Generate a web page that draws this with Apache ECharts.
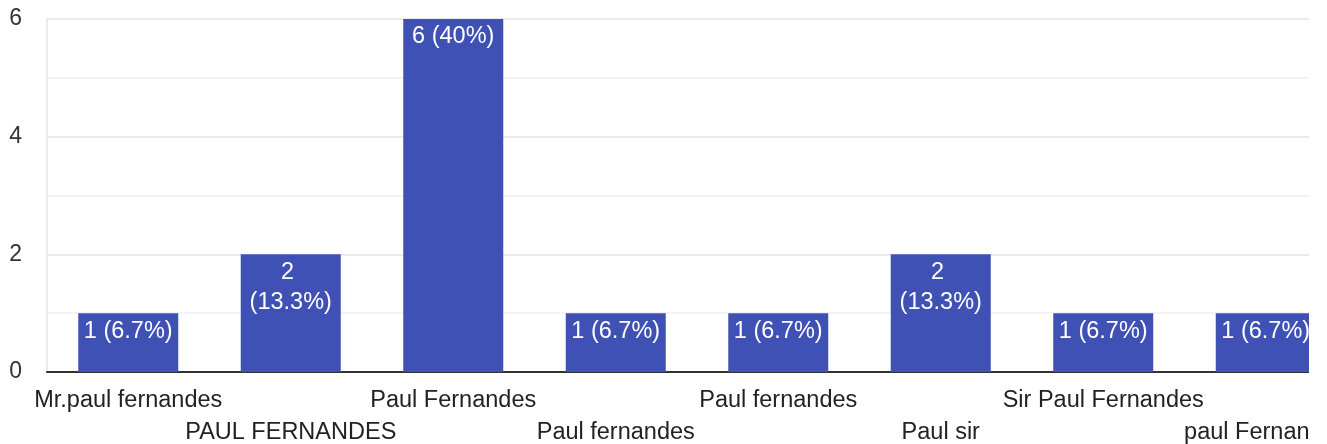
<!DOCTYPE html>
<html>
<head>
<meta charset="utf-8">
<script src="https://cdn.jsdelivr.net/npm/echarts@6/dist/echarts.min.js"></script>
<style>
  html, body { margin: 0; padding: 0; background: #fff; }
  #wrap { width: 1309px; height: 444px; overflow: hidden; }
  #chart { width: 1400px; height: 444px; }
</style>
</head>
<body>
<div id="wrap"><div id="chart"></div></div>
<script>
// answers and counts
var names = ['Mr.paul fernandes', 'PAUL FERNANDES', 'Paul Fernandes', 'Paul fernandes',
             'Paul fernandes', 'Paul sir', 'Sir Paul Fernandes', 'paul Fernandes'];
var counts = [1, 2, 6, 1, 1, 2, 1, 1];
var yTicks = [0, 2, 4, 6];

var total = counts.reduce(function (a, b) { return a + b; }, 0);
var chart = echarts.init(document.getElementById('chart'));
var font = 'Liberation Sans, Arial, sans-serif';

var option = {
    animation: false,
    grid: { left: 47, right: 53, top: 19, bottom: 72, containLabel: false, outerBoundsMode: 'none' },
    xAxis: {
        type: 'category',
        data: names,
        axisTick: { show: false },
        axisLine: { lineStyle: { color: '#333', width: 2 } },
        axisLabel: {
            interval: 0,
            margin: 13,
            fontSize: 23.5,
            lineHeight: 32,
            color: '#222',
            fontFamily: font,
            formatter: function (v, i) {
                return i % 2 ? '\n' + v : v;   // alternate rows like the original
            }
        }
    },
    yAxis: {
        type: 'value',
        min: yTicks[0],
        max: yTicks[yTicks.length - 1],
        interval: 2,
        axisLine: { show: true, lineStyle: { color: '#ebebeb', width: 2 } },
        axisTick: { show: false },
        axisLabel: {
            margin: 25,
            fontSize: 23,
            color: '#333',
            fontFamily: font
        },
        splitLine: { lineStyle: { color: '#ebebeb', width: 2 } },
        minorTick: { show: false, splitNumber: 2 },
        minorSplitLine: { show: true, lineStyle: { color: '#f3f3f3', width: 2 } }
    },
    series: [{
        type: 'bar',
        data: counts,
        barWidth: 100,
        itemStyle: { color: '#3f51b5' },
        label: {
            show: true,
            position: 'insideTop',
            distance: 3,
            color: '#fff',
            fontSize: 23.5,
            lineHeight: 30,
            width: 96,
            overflow: 'break',
            fontFamily: font,
            formatter: function (p) {
                var pct = Math.round(p.value / total * 1000) / 10;
                return p.value + ' (' + pct + '%)';
            }
        }
    }]
};
chart.setOption(option);
</script>
</body>
</html>
